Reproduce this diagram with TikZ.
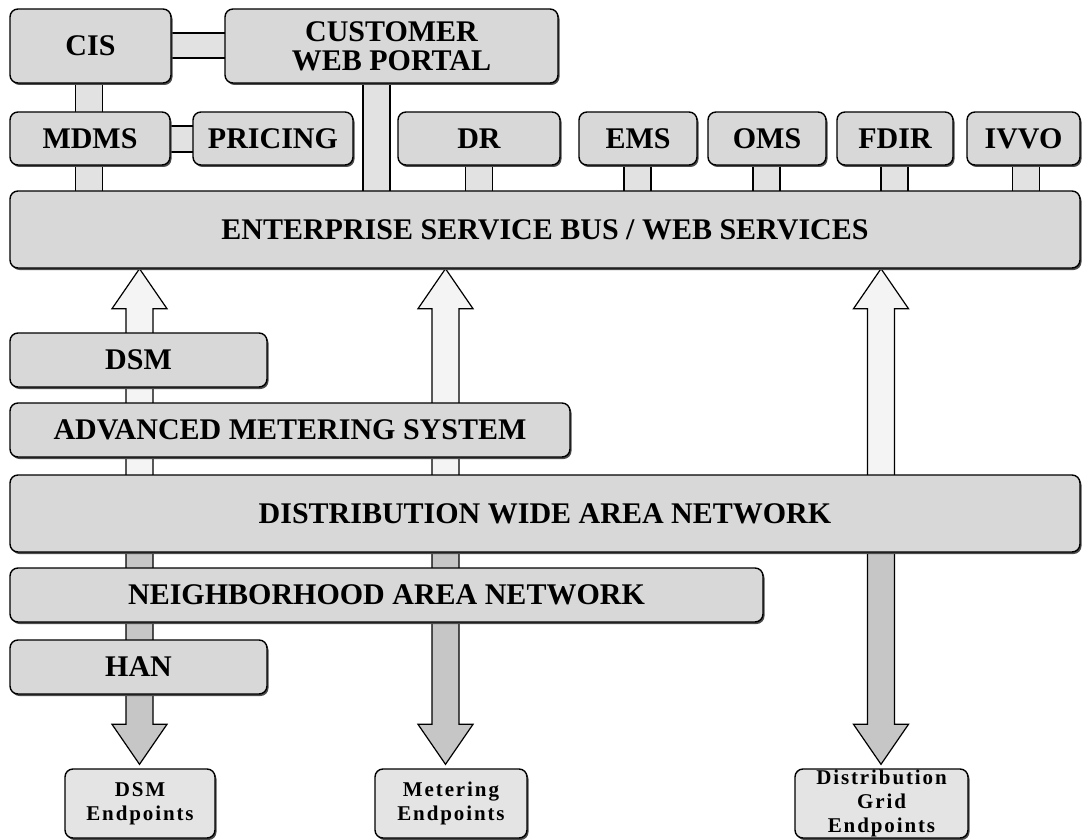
\documentclass[tikz,border=0pt]{standalone}
\usepackage{fontspec}
\setmainfont{Liberation Serif}
\newfontfamily\epfont[LetterSpace=9]{Liberation Serif}
\usetikzlibrary{calc,shadows,backgrounds}
\definecolor{boxgray}{RGB}{216,216,216}
\definecolor{epgray}{RGB}{228,228,228}
\definecolor{linkgray}{RGB}{226,226,226}
\definecolor{upgray}{RGB}{244,244,244}
\definecolor{downgray}{RGB}{198,198,198}

\begin{document}
\begin{tikzpicture}[x=1pt,y=-1pt,
    box/.style={draw,line width=1.4pt,rounded corners=8pt,fill=boxgray,
      drop shadow={shadow xshift=1.5pt,shadow yshift=-2pt,fill=black!70,opacity=1},
      inner sep=0pt,align=center,font=\fontsize{30}{29}\selectfont\bfseries},
    epbox/.style={box,fill=epgray,font=\epfont\fontsize{21}{24}\selectfont\bfseries},
    link/.style={draw,line width=1.2pt,fill=linkgray},
    uparr/.style={draw,line width=1.2pt,fill=upgray},
    downarr/.style={draw,line width=1.2pt,fill=downgray}]

        \useasboundingbox (0,0) rectangle (1082,840);

        \begin{scope}[every node/.style=box]
          \node[minimum width=161,minimum height=74] (cis)    at (90.5,46)   {CIS};
          \node[minimum width=333,minimum height=74] (portal) at (391.5,46)  {CUSTOMER\\WEB PORTAL};
          \node[minimum width=160,minimum height=53] (mdms)    at (90,138.5)   {MDMS};
          \node[minimum width=160,minimum height=53] (pricing) at (273,138.5)  {PRICING};
          \node[minimum width=162,minimum height=53] (dr)      at (479,138.5)  {DR};
          \node[minimum width=118,minimum height=53] (ems)     at (638,138.5)  {EMS};
          \node[minimum width=118,minimum height=53] (oms)     at (767,138.5)  {OMS};
          \node[minimum width=116,minimum height=53] (fdir)    at (895,138.5)  {FDIR};
          \node[minimum width=113,minimum height=53] (ivvo)    at (1023.5,138.5) {IVVO};
          \node[minimum width=1070,minimum height=77] (esb)    at (545,229.5)  {ENTERPRISE SERVICE BUS / WEB SERVICES};
          \node[minimum width=257,minimum height=54] (dsm)     at (138.5,360)  {DSM};
          \node[minimum width=560,minimum height=54] (ams)     at (290,430)    {ADVANCED METERING SYSTEM};
          \node[minimum width=1070,minimum height=77] (dwan)   at (545,513.5)  {DISTRIBUTION WIDE AREA NETWORK};
          \node[minimum width=753,minimum height=54] (nan)     at (386.5,595)  {NEIGHBORHOOD AREA NETWORK};
          \node[minimum width=257,minimum height=54] (han)     at (138.5,667)  {HAN};
        \end{scope}

        \begin{scope}[every node/.style=epbox]
          \node[minimum width=150,minimum height=69] (dsmep)   at (140,803.5)  {DSM\\Endpoints};
          \node[minimum width=152,minimum height=69] (meterep) at (451,803.5)  {Metering\\Endpoints};
          \node[minimum width=173,minimum height=69] (gridep)  at (881.5,803.5) {Distribution\\Grid\\Endpoints};
        \end{scope}

        \begin{scope}[on background layer]
          \draw[link] (cis.center |- 0,33) rectangle (portal.center |- 0,58);
          \draw[link] (mdms.center |- 0,126) rectangle (pricing.center |- 0,152);
          \foreach \a/\b/\x in {cis/mdms/89, mdms/esb/89, portal/esb/376.5, dr/esb/479,
                                ems/esb/637.5, oms/esb/766.5, fdir/esb/894.5, ivvo/esb/1026}
            \draw[link] (\x-13.5,0 |- \a.center) rectangle (\x+13.5,0 |- \b.center);

          \foreach \ax in {139.5,445.5,881}
            \draw[uparr] (\ax,0 |- esb.south) -- ++(27.5,40) -- ++(-14,0)
              -- (\ax+13.5,0 |- dwan.center) -- (\ax-13.5,0 |- dwan.center)
              -- ($(\ax,0 |- esb.south)+(-13.5,40)$) -- ++(-14,0) -- cycle;

          \foreach \ax/\ep in {139.5/dsmep, 445.5/meterep, 881/gridep}
            \draw[downarr] (\ax-13.5,0 |- dwan.center) -- (\ax+13.5,0 |- dwan.center)
              -- ($(\ax,0 |- \ep.north)+(13.5,-44)$) -- ++(14,0)
              -- ($(\ax,0 |- \ep.north)+(0,-4)$) -- ++(-27.5,-40) -- ++(14,0) -- cycle;
        \end{scope}

      \end{tikzpicture}
\end{document}
